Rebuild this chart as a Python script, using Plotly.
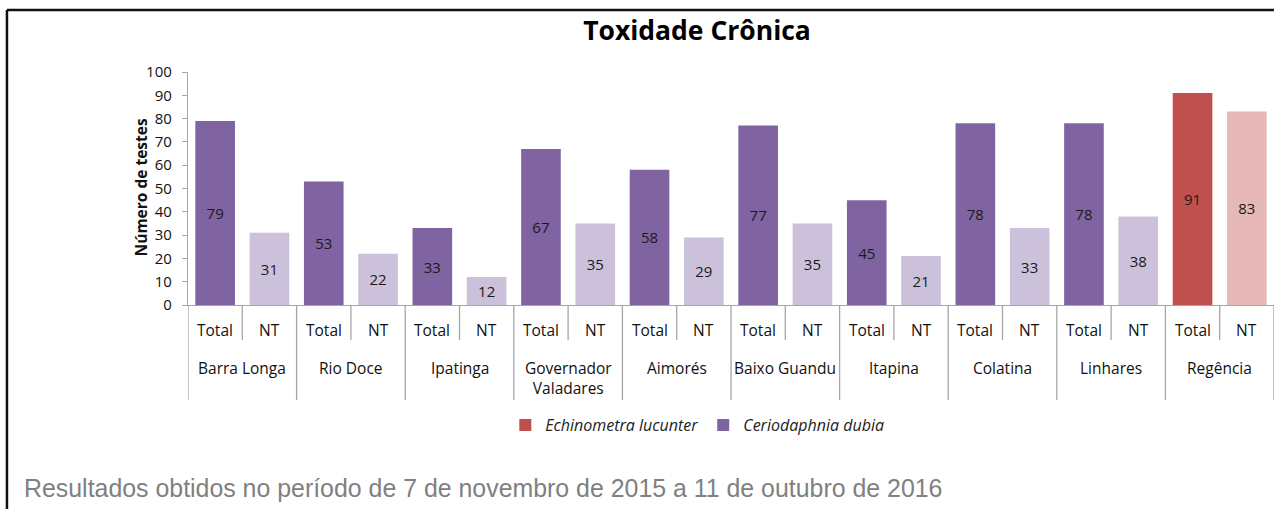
import plotly.graph_objects as go

# Sampling sites and test counts
locais = ["Barra Longa", "Rio Doce", "Ipatinga", "Governador<br>Valadares", "Aimorés",
          "Baixo Guandu", "Itapina", "Colatina", "Linhares", "Regência"]
subcats = ["Total", "NT"]
total = [79, 53, 33, 67, 58, 77, 45, 78, 78, 91]
nt = [31, 22, 12, 35, 29, 35, 21, 33, 38, 83]
especie_marinha = "Regência"  # site tested with Echinometra lucunter

ROXO, ROXO_CLARO = "#8064A2", "#CCC1DA"
VERMELHO, VERMELHO_CLARO = "#C0504D", "#E6B9B8"
FONTE = "Open Sans"
TAM = 15.5

categorias, valores, cores, especies = [], [], [], []
for local, t, n in zip(locais, total, nt):
    marinho = local == especie_marinha
    for sub, v in zip(subcats, (t, n)):
        categorias.append(f"{local} · {sub}")
        valores.append(v)
        if marinho:
            cores.append(VERMELHO if sub == "Total" else VERMELHO_CLARO)
        else:
            cores.append(ROXO if sub == "Total" else ROXO_CLARO)
        especies.append("E" if marinho else "C")

fig = go.Figure()
for cod, nome in (("E", "<i>Echinometra lucunter</i>"), ("C", "<i>Ceriodaphnia dubia</i>")):
    idx = [i for i, e in enumerate(especies) if e == cod]
    fig.add_trace(go.Bar(
        x=[categorias[i] for i in idx],
        y=[valores[i] for i in idx],
        name=nome,
        marker=dict(color=[cores[i] for i in idx], line=dict(width=0)),
        text=[valores[i] for i in idx],
        textposition="inside",
        insidetextanchor="middle",
        textangle=0,
        constraintext="none",
        textfont=dict(family=FONTE, size=15, color="#1a1a1a"),
        hoverinfo="x+y",
    ))

n_cat = len(categorias)
shapes = []
# Separators below the axis: short between Total/NT, long between sites
for k in range(n_cat + 1):
    pos = k - 0.5
    longo = k % 2 == 0
    shapes.append(dict(type="line", xref="x", yref="paper", x0=pos, x1=pos,
                       y0=0, y1=-0.408 if longo else -0.150,
                       line=dict(color="#A6A6A6", width=1.3)))
# Frame lines around the figure
shapes.append(dict(type="line", xref="paper", yref="paper", x0=-0.1667, x1=1.2,
                   y0=1.266, y1=1.266, line=dict(color="#111111", width=2.5)))
shapes.append(dict(type="line", xref="paper", yref="paper", x0=-0.1667, x1=-0.1667,
                   y0=1.266, y1=-1.2, line=dict(color="#111111", width=2.5)))

annotations = []
for i, cat in enumerate(categorias):
    annotations.append(dict(x=i, xref="x", y=-0.107, yref="paper", text=cat.split(" · ")[1],
                            showarrow=False, font=dict(family=FONTE, size=TAM, color="#111111"),
                            xanchor="center", yanchor="middle"))
for g, local in enumerate(locais):
    annotations.append(dict(x=2 * g + 0.5, xref="x", y=-0.215, yref="paper", text=local,
                            showarrow=False, font=dict(family=FONTE, size=TAM, color="#111111"),
                            xanchor="center", yanchor="top", align="center"))
annotations.append(dict(x=-0.0552, xref="paper", y=0.505, yref="paper", text="<b>Número de testes</b>",
                        textangle=-90, showarrow=False,
                        font=dict(family=FONTE, size=TAM, color="#111111")))
annotations.append(dict(x=(22 - 188) / 1086, xref="paper", y=(305 - 488) / 233, yref="paper",
                        text="Resultados obtidos no período de 7 de novembro de 2015 a 11 de outubro de 2016",
                        showarrow=False, xanchor="left", yanchor="middle",
                        font=dict(family="Liberation Sans", size=24.9, color="#808080")))

fig.update_layout(
    width=1274, height=509,
    margin=dict(l=188, r=0, t=72, b=204),
    paper_bgcolor="white", plot_bgcolor="white",
    barmode="overlay", bargap=0.27,
    title=dict(text="<b>Toxidade Crônica</b>", x=697 / 1274, xref="container", xanchor="center",
               y=1 - 31 / 509, yref="container", yanchor="middle",
               font=dict(family=FONTE, size=26.5, color="#000000")),
    xaxis=dict(type="category", categoryorder="array", categoryarray=categorias,
               range=[-0.5, n_cat - 0.5], showticklabels=False, ticks="",
               showline=True, linecolor="#A6A6A6", linewidth=1.3, showgrid=False, zeroline=False),
    yaxis=dict(range=[0, 100], dtick=10, showline=True, linecolor="#A6A6A6", linewidth=1.3,
               ticks="outside", ticklen=5, tickcolor="#A6A6A6", showgrid=False, zeroline=False,
               ticklabelstandoff=7,
               tickfont=dict(family=FONTE, size=15, color="#111111")),
    legend=dict(orientation="h", x=0.469, xanchor="center", y=-0.515, yanchor="middle",
                font=dict(family=FONTE, size=16, color="#222222"), traceorder="normal",
                itemwidth=30),
    shapes=shapes,
    annotations=annotations,
    showlegend=True,
)

fig.write_html("out.html")
